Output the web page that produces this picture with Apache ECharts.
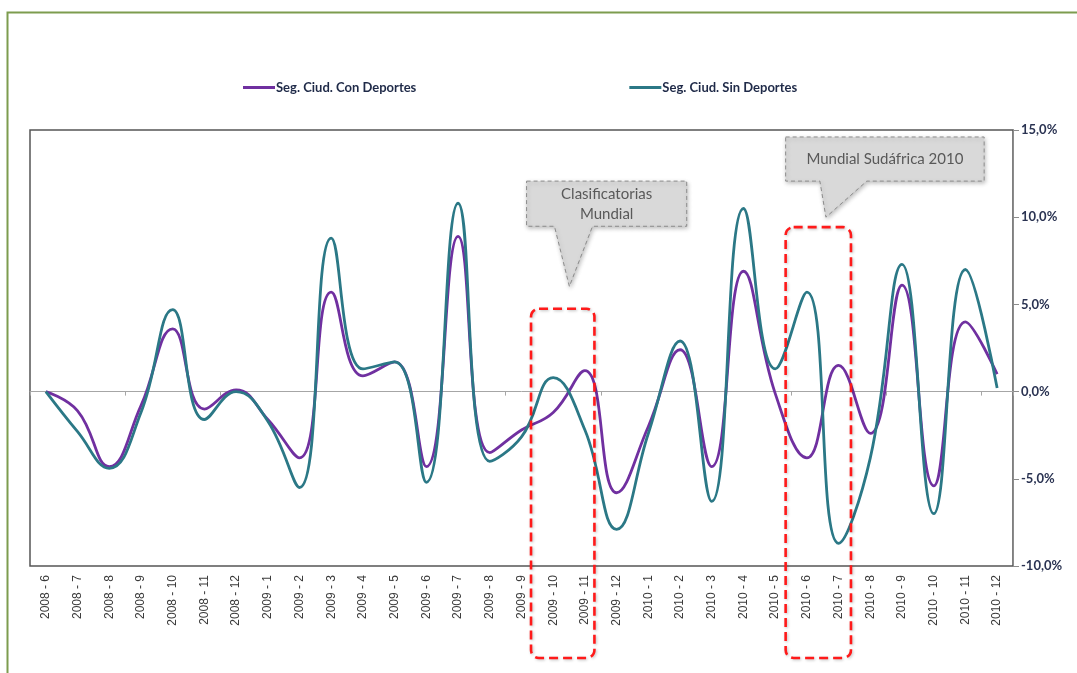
<!DOCTYPE html>
<html>
<head>
<meta charset="utf-8">
<script src="https://cdn.jsdelivr.net/npm/echarts@6/dist/echarts.min.js"></script>
<style>
html,body{margin:0;padding:0;background:#fff;}
#chart{width:1077px;height:673px;}
</style>
</head>
<body>
<div id="chart"></div>
<script>
const categories = [
  "2008 - 6","2008 - 7","2008 - 8","2008 - 9","2008 - 10","2008 - 11","2008 - 12",
  "2009 - 1","2009 - 2","2009 - 3","2009 - 4","2009 - 5","2009 - 6","2009 - 7","2009 - 8","2009 - 9","2009 - 10","2009 - 11","2009 - 12",
  "2010 - 1","2010 - 2","2010 - 3","2010 - 4","2010 - 5","2010 - 6","2010 - 7","2010 - 8","2010 - 9","2010 - 10","2010 - 11","2010 - 12"
];
const conDeportes = [0.0,-1.1,-4.3,-0.8,3.6,-1.0,0.1,-1.6,-3.8,5.7,0.9,1.7,-4.3,8.9,-3.5,-2.2,-1.2,1.2,-5.8,-2.0,2.4,-4.3,6.9,-0.1,-3.8,1.5,-2.4,6.1,-5.4,4.0,1.0];
const sinDeportes = [0.0,-2.3,-4.4,-1.2,4.7,-1.6,0.0,-1.7,-5.5,8.8,1.3,1.7,-5.2,10.8,-4.0,-2.6,0.8,-2.2,-7.9,-2.4,2.9,-6.3,10.5,1.3,5.7,-8.7,-3.8,7.3,-7.0,7.0,0.2];
const yTicks = { min: -10, max: 15, interval: 5 };
const seriesNames = ["Seg. Ciud. Con Deportes", "Seg. Ciud. Sin Deportes"];
const annotations = {
  boxes: [
    { from: 15.30, to: 17.30, top: 4.75 },
    { from: 23.33, to: 25.39, top: 9.43 }
  ],
  callouts: [
    { x1: 15.16, x2: 20.21, yTop: 12.07, yBot: 9.48, t1: 16.04, t2: 17.24, tipX: 16.51, tipY: 6.03, text: "Clasificatorias\nMundial" },
    { x1: 23.33, x2: 29.59, yTop: 14.6, yBot: 12.07, t1: 24.41, t2: 25.89, tipX: 24.6, tipY: 10.0, text: "Mundial Sudáfrica 2010" }
  ]
};

const chart = echarts.init(document.getElementById('chart'), null, { renderer: 'canvas' });
const PURPLE = '#7030a0', TEAL = '#2b7886';

const option = {
  backgroundColor: '#ffffff',
  animation: false,
  legend: {
    left: 238, top: 76,
    itemWidth: 32, itemHeight: 3, itemGap: 213,
    icon: 'rect',
    textStyle: { fontFamily: 'Lato', fontWeight: 'bold', fontSize: 13, color: '#1f2a48', padding: [0,0,0,-4] },
    data: seriesNames
  },
  grid: {
    left: 30, right: 64, top: 130, bottom: 107,
    show: true, borderColor: '#555555', borderWidth: 1.5, backgroundColor: 'transparent'
  },
  xAxis: [
    {
      type: 'category', data: categories, boundaryGap: true, position: 'bottom',
      axisLine: { show: false, onZero: false },
      axisTick: { show: false },
      axisLabel: { rotate: 90, interval: 0, margin: 9, fontFamily: 'Liberation Sans', fontSize: 12, color: '#3a3a3a' },
      splitLine: { show: false }
    },
    {
      type: 'category', data: categories, boundaryGap: true, position: 'bottom',
      axisLine: { show: true, onZero: true, lineStyle: { color: '#a6a6a6', width: 1 } },
      axisTick: { show: true, length: 4, inside: false, lineStyle: { color: '#a6a6a6' } },
      axisLabel: { show: false },
      splitLine: { show: false }
    }
  ],
  yAxis: {
    type: 'value', position: 'right',
    min: yTicks.min, max: yTicks.max, interval: yTicks.interval,
    axisLine: { show: true, lineStyle: { color: '#8c8c8c', width: 1 } },
    axisTick: { show: true, length: 6, lineStyle: { color: '#8c8c8c' } },
    axisLabel: {
      margin: 8, fontFamily: 'Lato', fontWeight: 'bold', fontSize: 13, color: '#2a3352',
      formatter: v => v.toFixed(1).replace('.', ',') + '%'
    },
    splitLine: { show: false }
  },
  series: [
    { name: seriesNames[0], type: 'line', data: conDeportes, smooth: 0.45, showSymbol: false,
      lineStyle: { color: PURPLE, width: 2.8 }, itemStyle: { color: PURPLE }, z: 3 },
    { name: seriesNames[1], type: 'line', data: sinDeportes, smooth: 0.45, showSymbol: false,
      lineStyle: { color: TEAL, width: 2.8 }, itemStyle: { color: TEAL }, z: 4 }
  ]
};
chart.setOption(option);

// annotation overlays positioned through the chart's own scales
const x0 = chart.convertToPixel({ xAxisIndex: 0 }, 0);
const x30 = chart.convertToPixel({ xAxisIndex: 0 }, categories.length - 1);
const step = (x30 - x0) / (categories.length - 1);
const px = i => x0 + i * step;
const py = v => chart.convertToPixel({ yAxisIndex: 0 }, v);
const bottomY = py(yTicks.min) + 92;

const graphics = [];
graphics.push({
  type: 'rect', shape: { x: 7.5, y: 12.5, width: 1100, height: 700 },
  style: { fill: 'none', stroke: '#7d9c4f', lineWidth: 2 }, z: 0, silent: true
});
annotations.boxes.forEach(b => {
  const xa = px(b.from), xb = px(b.to), yt = py(b.top);
  graphics.push({
    type: 'rect', z: 50, silent: true,
    shape: { x: xa, y: yt, width: xb - xa, height: bottomY - yt, r: 8 },
    style: { fill: 'none', stroke: '#ff1a1a', lineWidth: 2.6, lineDash: [9, 5],
             shadowBlur: 3, shadowColor: 'rgba(0,0,0,0.25)', shadowOffsetX: 1, shadowOffsetY: 1 }
  });
});
annotations.callouts.forEach(c => {
  const xa = px(c.x1), xb = px(c.x2), yt = py(c.yTop), yb = py(c.yBot);
  const ta = px(c.t1), tb = px(c.t2), tx = px(c.tipX), ty = py(c.tipY);
  graphics.push({
    type: 'polygon', z: 60, silent: true,
    shape: { points: [[xa, yt], [xb, yt], [xb, yb], [tb, yb], [tx, ty], [ta, yb], [xa, yb]] },
    style: { fill: '#d9d9d9', stroke: '#8c8c8c', lineWidth: 1, lineDash: [4, 3],
             shadowBlur: 4, shadowColor: 'rgba(0,0,0,0.25)', shadowOffsetX: 1, shadowOffsetY: 2 }
  });
  graphics.push({
    type: 'text', z: 61, silent: true,
    x: (xa + xb) / 2, y: (yt + yb) / 2,
    style: { text: c.text, fill: '#595959', font: '15px Lato', align: 'center', verticalAlign: 'middle', lineHeight: 20 }
  });
});
chart.setOption({ graphic: graphics });
</script>
</body>
</html>
